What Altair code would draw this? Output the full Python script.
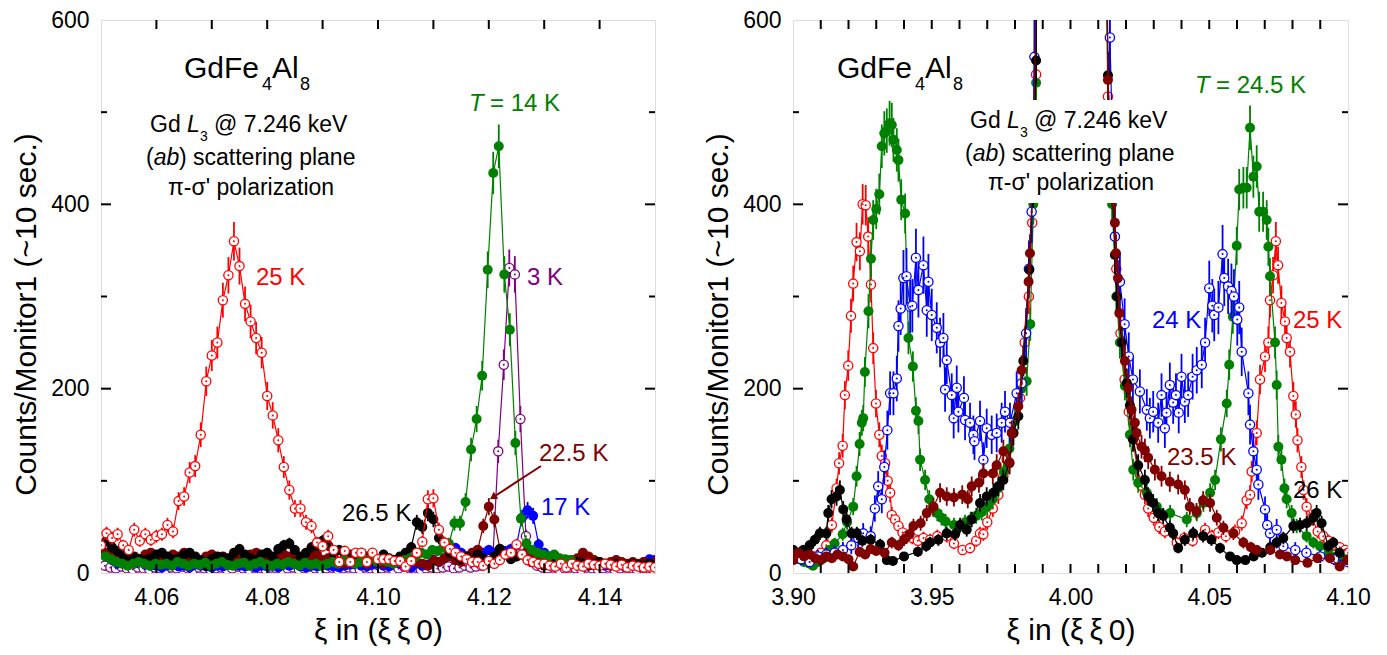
import altair as alt
import pandas as pd

FONT = "Liberation Sans"
RED, GREEN, BLUE, PURPLE, MAROON, BLACK = "#FF0000", "#008000", "#0000FF", "#800080", "#800000", "#000000"
XTITLE = "ξ in (ξ\u2009ξ\u20090)"
YTITLE = "Counts/Monitor1 (~10 sec.)"

# ---------------- left panel data (scan start, step 0.001) ----------------
STEP = 0.001
L_RED_X0 = 4.050
L_RED = [30, 43, 38, 42, 30, 25, 47, 35, 42, 36,
         40, 42, 52, 45, 78, 83, 109, 116, 150, 208,
         236, 250, 296, 323, 360, 333, 292, 273, 255, 239,
         192, 171, 144, 115, 90, 70, 70, 55, 51, 33,
         29, 40, 25, 12, 24, 12, 22, 22, 12, 22,
         15, 15, 15, 13, 13, 7, 13, 22, 34, 80,
         81, 47, 33, 26, 22, 18, 15, 12, 12, 8,
         13, 10, 14, 20, 22, 31, 20, 14, 12, 10,
         10, 8, 7, 10, 6, 10, 8, 7, 10, 9,
         8, 10, 9, 7, 9, 6, 8, 7, 6, 7,
         6]
L_BLACK_X0 = 4.050
L_BLACK = [30, 35, 28, 24, 20, 18, 17, 15, 14, 16,
           20, 22, 18, 14, 16, 20, 22, 18, 14, 8,
           15, 18, 17, 16, 22, 26, 20, 16, 14, 20,
           22, 18, 26, 30, 32, 25, 18, 22, 28, 30,
           35, 30, 22, 25, 18, 20, 15, 22, 18, 14,
           15, 20, 16, 14, 18, 22, 28, 55, 50, 65,
           58, 38, 28, 22, 20, 15, 18, 14, 20, 16,
           12, 18, 26, 20, 15, 18, 20, 14, 12, 10,
           8, 10, 12, 10, 8, 10, 12, 10, 8, 10,
           12, 10, 8, 10, 9, 8, 10, 9, 8, 10,
           8]
L_MAROON_X0 = 4.050
L_MAROON = [25, 22, 18, 20, 16, 14, 18, 15, 20, 22,
            18, 14, 16, 20, 18, 22, 16, 14, 12, 18,
            20, 16, 18, 14, 12, 16, 18, 20, 22, 16,
            14, 12, 16, 20, 18, 14, 16, 12, 18, 20,
            14, 16, 18, 12, 10, 14, 16, 12, 10, 14,
            12, 10, 12, 14, 12, 10, 14, 12, 10, 8,
            14, 12, 16, 18, 14, 12, 16, 22, 25, 51,
            72, 58, 26, 20, 22, 18, 20, 24, 16, 14,
            12, 15, 18, 14, 12, 14, 16, 22, 18, 14,
            12, 10, 12, 14, 12, 10, 12, 10, 12, 10,
            12]
L_BLUE_X0 = 4.050
L_BLUE = [22, 18, 14, 10, 12, 14, 10, 12, 9, 8,
          8, 6, 8, 10, 7, 8, 6, 9, 8, 7,
          6, 8, 7, 9, 10, 8, 7, 9, 6, 8,
          7, 8, 6, 9, 8, 10, 7, 6, 8, 7,
          9, 8, 7, 6, 8, 9, 10, 8, 7, 9,
          10, 8, 7, 12, 10, 8, 6, 10, 8, 9,
          14, 12, 16, 20, 27, 22, 18, 20, 25, 22,
          25, 22, 20, 24, 26, 30, 60, 68, 62, 31,
          22, 18, 15, 12, 14, 12, 10, 12, 10, 9,
          10, 8, 9, 12, 10, 8, 10, 9, 12, 15,
          14]
L_GREEN_X0 = 4.0508
L_GREEN = [18, 15, 12, 10, 8, 10, 12, 10, 8, 10,
           9, 10, 8, 12, 10, 8, 10, 9, 11, 8,
           10, 12, 9, 8, 10, 11, 8, 10, 12, 9,
           8, 10, 9, 12, 10, 8, 11, 9, 10, 8,
           10, 12, 10, 14, 12, 10, 12, 14, 16, 12,
           14, 12, 10, 12, 14, 16, 18, 22, 20, 25,
           24, 28, 32, 54, 54, 77, 134, 167, 214, 329,
           434, 463, 324, 264, 141, 59, 32, 25, 22, 20,
           18, 20, 16, 15, 14]
L_PURPLE_X0 = 4.0507
L_PURPLE = [8, 6, 5, 7, 5, 4, 6, 5, 4, 6,
            5, 4, 6, 5, 7, 5, 4, 6, 5, 4,
            5, 6, 4, 5, 7, 5, 4, 6, 5, 4,
            6, 5, 4, 5, 6, 4, 5, 7, 5, 4,
            5, 6, 4, 5, 6, 5, 4, 6, 5, 4,
            5, 6, 4, 5, 7, 5, 6, 4, 5, 6,
            5, 6, 7, 5, 6, 8, 6, 7, 8, 10,
            12, 132, 226, 331, 324, 167, 40, 12, 8, 6,
            5, 6, 4, 5, 6, 5, 4, 6, 5, 4,
            5, 6, 4, 5, 6, 5, 4, 6, 5, 4]

# ---------------- right panel data ----------------
R_RED_X = [3.900, 3.902, 3.904, 3.906, 3.908, 3.910, 3.912, 3.914, 3.9157, 3.9166,
           3.9179, 3.9187, 3.9199, 3.9209, 3.9217, 3.9229, 3.9241, 3.9251, 3.9262, 3.9271,
           3.9281, 3.9289, 3.9299, 3.9311, 3.9320, 3.9332, 3.9341, 3.9350, 3.9356, 3.9368,
           3.9380, 3.9395, 3.941, 3.943, 3.945, 3.947, 3.9494, 3.952, 3.9554, 3.958,
           3.9611, 3.9638, 3.966, 3.9674, 3.9686, 3.970, 3.972, 3.974, 3.9758, 3.9770,
           3.9794, 3.9818, 3.9835, 3.9850, 3.9862, 3.9876, 3.989, 3.993, 3.997, 4.000,
           4.003, 4.007, 4.011, 4.0135, 4.0150, 4.0165, 4.018, 4.0195, 4.0210, 4.0225,
           4.024, 4.0255, 4.0268, 4.028, 4.030, 4.032, 4.034, 4.0383, 4.041, 4.044,
           4.0485, 4.0510, 4.0533, 4.056, 4.0593, 4.0617, 4.0635, 4.0647, 4.0653, 4.0671,
           4.0683, 4.0701, 4.0713, 4.0719, 4.0730, 4.0740, 4.0748, 4.0760, 4.0773, 4.0779,
           4.0791, 4.0803, 4.0812, 4.0818, 4.0832, 4.0840, 4.0851, 4.087, 4.0891, 4.0911,
           4.093, 4.095, 4.097, 4.099, 4.100]
R_RED_Y = [22, 18, 20, 15, 18, 22, 30, 52, 92, 119,
           138, 193, 225, 279, 314, 359, 349, 400, 399, 365,
           313, 244, 184, 150, 127, 119, 100, 87, 63, 58,
           51, 44, 40, 38, 35, 38, 36, 40, 40, 32,
           25, 27, 35, 43, 42, 55, 70, 85, 105, 123,
           152, 190, 250, 300, 380, 541, 1200, 4000, 8000, 9000,
           8000, 4000, 1200, 517, 420, 330, 260, 210, 175, 145,
           115, 95, 85, 70, 60, 50, 45, 33, 38, 35,
           47, 40, 44, 40, 45, 54, 79, 85, 110, 152,
           210, 235, 250, 296, 323, 360, 334, 293, 273, 255,
           240, 192, 172, 144, 115, 90, 72, 60, 45, 40,
           35, 30, 28, 25, 22]

R_GREEN_X = [3.900, 3.902, 3.904, 3.906, 3.9072, 3.909, 3.9111, 3.913, 3.915, 3.9179,
             3.9195, 3.9217, 3.9229, 3.9240, 3.9248, 3.9253, 3.9259, 3.9272, 3.9281, 3.9289,
             3.9300, 3.9311, 3.9320, 3.9329, 3.9338, 3.9348, 3.9356, 3.9362, 3.9374, 3.9380,
             3.9390, 3.9404, 3.9416, 3.9432, 3.9443, 3.9452, 3.9458, 3.9476, 3.9491, 3.9505,
             3.952, 3.9535, 3.955, 3.958, 3.960, 3.962, 3.964, 3.966, 3.968, 3.970,
             3.972, 3.974, 3.976, 3.978, 3.980, 3.9823, 3.9842, 3.9855, 3.9866, 3.9876,
             3.989, 3.993, 3.997, 4.000, 4.003, 4.007, 4.011, 4.0135, 4.015, 4.0165,
             4.0178, 4.0196, 4.0214, 4.0226, 4.0244, 4.0275, 4.0311, 4.0359, 4.0419, 4.0455,
             4.0479, 4.0503, 4.0521, 4.0542, 4.0563, 4.0572, 4.0585, 4.0599, 4.0608, 4.0623,
             4.0635, 4.0647, 4.0659, 4.0671, 4.0680, 4.0694, 4.0707, 4.0713, 4.0719, 4.0737,
             4.0743, 4.0749, 4.0760, 4.0771, 4.0779, 4.0797, 4.0815, 4.0851, 4.0875, 4.0899,
             4.093, 4.0959, 4.098, 4.100]
R_GREEN_Y = [20, 15, 12, 10, 8, 12, 16, 25, 32, 42,
             55, 72, 105, 140, 163, 168, 218, 284, 341, 383,
             395, 411, 463, 477, 480, 488, 486, 470, 459, 448,
             405, 390, 255, 224, 176, 165, 123, 101, 80, 70,
             65, 60, 56, 52, 50, 55, 58, 62, 66, 72,
             80, 92, 110, 135, 165, 200, 208, 270, 400, 532,
             1200, 4000, 8000, 9000, 8000, 4000, 1200, 500, 400, 300,
             250, 203, 150, 112, 98, 87, 72, 65, 58, 65,
             76, 87, 101, 145, 184, 226, 278, 355, 416, 418,
             418, 483, 430, 441, 392, 392, 383, 354, 322, 250,
             204, 137, 123, 92, 80, 65, 51, 40, 33, 29,
             22, 18, 16, 15]

R_BLUE_X = [3.900, 3.903, 3.906, 3.909, 3.912, 3.915, 3.918, 3.921, 3.9235, 3.9253,
            3.928, 3.9295, 3.9307, 3.932, 3.9329, 3.9340, 3.9350, 3.9362, 3.9374, 3.9380,
            3.9388, 3.9398, 3.9409, 3.9422, 3.9430, 3.9443, 3.9452, 3.9470, 3.9482, 3.9488,
            3.9500, 3.9518, 3.9530, 3.9542, 3.9548, 3.9554, 3.9572, 3.9579, 3.9590, 3.9596,
            3.9616, 3.9620, 3.9638, 3.9650, 3.9654, 3.9674, 3.9686, 3.9698, 3.9716, 3.9734,
            3.9752, 3.9764, 3.9782, 3.9806, 3.9824, 3.9840, 3.9850, 3.9860, 3.9870, 3.989,
            3.993, 3.997, 4.000, 4.003, 4.007, 4.011, 4.0142, 4.0160, 4.0178, 4.0195,
            4.0210, 4.0225, 4.0250, 4.0275, 4.0286, 4.0298, 4.0316, 4.0328, 4.0340, 4.0346,
            4.0358, 4.0370, 4.0380, 4.0390, 4.0400, 4.0412, 4.0424, 4.0440, 4.0455, 4.0473,
            4.0485, 4.0500, 4.0511, 4.0518, 4.0533, 4.0548, 4.0554, 4.0568, 4.0580, 4.0589,
            4.0601, 4.0608, 4.0617, 4.0641, 4.0647, 4.0659, 4.0671, 4.0677, 4.0701, 4.0709,
            4.0719, 4.0743, 4.0767, 4.081, 4.085, 4.090, 4.095, 4.100]
R_BLUE_Y = [20, 15, 12, 18, 20, 22, 25, 30, 38, 43,
            40, 70, 94, 80, 115, 155, 195, 195, 211, 268,
            287, 320, 322, 289, 290, 342, 307, 334, 285, 316,
            280, 266, 250, 255, 199, 231, 193, 168, 201, 175,
            190, 166, 163, 150, 143, 165, 123, 157, 150, 152,
            163, 175, 163, 195, 206, 260, 330, 392, 560, 1200,
            4000, 8000, 9000, 8000, 4000, 1200, 581, 365, 316, 270,
            235, 210, 197, 177, 168, 175, 163, 193, 157, 174,
            204, 185, 193, 174, 213, 186, 193, 213, 220, 226,
            250, 309, 290, 280, 288, 346, 320, 311, 306, 300,
            275, 288, 240, 195, 161, 132, 112, 96, 69, 52,
            43, 47, 29, 25, 22, 18, 15, 12]

R_MAROON_X = [3.9001, 3.9005, 3.902, 3.904, 3.906, 3.908, 3.910, 3.912, 3.914, 3.916,
              3.918, 3.920, 3.9217, 3.924, 3.926, 3.928, 3.930, 3.933, 3.9356, 3.938,
              3.940, 3.942, 3.9434, 3.946, 3.9482, 3.9506, 3.953, 3.9554, 3.958, 3.961,
              3.963, 3.9644, 3.967, 3.9686, 3.972, 3.9734, 3.9758, 3.978, 3.9788, 3.9812,
              3.9824, 3.9849, 3.9854, 3.9866, 3.988, 3.990, 3.993, 3.997, 4.000, 4.003,
              4.007, 4.011, 4.0135, 4.0150, 4.0160, 4.0164, 4.0171, 4.0176, 4.0196, 4.0208,
              4.0220, 4.0232, 4.0238, 4.0256, 4.0268, 4.0280, 4.0304, 4.0328, 4.0358, 4.0388,
              4.0412, 4.0430, 4.0454, 4.0478, 4.0503, 4.0527, 4.0551, 4.0587, 4.0623, 4.0650,
              4.0671, 4.072, 4.0755, 4.078, 4.081, 4.0854, 4.089, 4.0935, 4.097, 4.0998]
R_MAROON_Y = [14, 20, 22, 18, 20, 16, 14, 18, 16, 20,
              18, 15, 7, 23, 20, 26, 24, 22, 33, 30,
              36, 42, 51, 54, 65, 72, 87, 83, 82, 85,
              80, 94, 98, 108, 108, 117, 132, 120, 152, 181,
              220, 316, 347, 450, 700, 1500, 4000, 8000, 9000, 8000,
              4000, 1500, 535, 420, 380, 347, 320, 282, 230, 201,
              177, 163, 152, 137, 133, 125, 112, 105, 99, 96,
              90, 72, 67, 79, 76, 60, 49, 43, 33, 28,
              25, 25, 20, 18, 14, 11, 16, 16, 7, 14]

R_BLACK_X = [3.9001, 3.902, 3.9037, 3.906, 3.9079, 3.9097, 3.912, 3.9127, 3.9139, 3.9157,
             3.9169, 3.9181, 3.9193, 3.9211, 3.923, 3.925, 3.928, 3.9314, 3.9338, 3.936,
             3.940, 3.945, 3.948, 3.9494, 3.9524, 3.9554, 3.9584, 3.9602, 3.9626, 3.9644,
             3.9674, 3.9698, 3.9722, 3.9740, 3.9758, 3.978, 3.9794, 3.9812, 3.9830, 3.9852,
             3.9865, 3.9876, 3.989, 3.993, 3.997, 4.000, 4.003, 4.007, 4.011, 4.0135,
             4.0150, 4.0160, 4.0168, 4.0185, 4.0203, 4.0214, 4.0226, 4.0244, 4.0268, 4.0280,
             4.0298, 4.0316, 4.0334, 4.0358, 4.037, 4.0388, 4.0412, 4.0442, 4.0478, 4.0508,
             4.0539, 4.0575, 4.0599, 4.063, 4.066, 4.069, 4.072, 4.0743, 4.0767, 4.0803,
             4.0827, 4.0851, 4.0875, 4.0887, 4.0905, 4.0929, 4.0947, 4.097, 4.0998]
R_BLACK_Y = [25, 22, 25, 30, 36, 43, 43, 65, 80, 83,
             90, 69, 58, 43, 43, 35, 36, 31, 14, 13,
             18, 23, 29, 33, 36, 43, 42, 52, 47, 58,
             76, 83, 87, 94, 101, 119, 152, 170, 230, 329,
             420, 556, 1200, 4000, 8000, 9000, 8000, 4000, 1200, 540,
             420, 345, 300, 250, 206, 182, 145, 117, 101, 83,
             76, 65, 62, 49, 43, 27, 36, 43, 40, 36,
             27, 18, 14, 14, 18, 22, 28, 33, 38, 51,
             52, 54, 60, 65, 54, 29, 33, 22, 14]

# ---------------- axes ticks / labels ----------------
L_XLABELS = [4.06, 4.08, 4.10, 4.12, 4.14]
L_XTICKS = [4.06, 4.07, 4.08, 4.09, 4.10, 4.11, 4.12, 4.13, 4.14]
R_XLABELS = [3.90, 3.95, 4.00, 4.05, 4.10]
R_XTICKS = [3.91, 3.92, 3.93, 3.94, 3.95, 3.96, 3.97, 3.98, 3.99, 4.00,
            4.01, 4.02, 4.03, 4.04, 4.05, 4.06, 4.07, 4.08, 4.09]
Y_LABELS = [0, 200, 400, 600]
Y_MAJOR = [200, 400]
Y_MINOR = [100, 300, 500]

H = 553
FILLED_SIZE = 100
OPEN_SIZE = 85


def grid_df(x0, vals):
    return pd.DataFrame({"xi": [round(x0 + STEP * i, 4) for i in range(len(vals))], "v": vals})


def xy_df(xs, ys):
    n = min(len(xs), len(ys))
    return pd.DataFrame({"xi": xs[:n], "v": ys[:n]})


def one():
    return alt.Data(values=[{"a": 1}])


def text_layer(t, x, y, size, color="black", style="normal", align="left"):
    return alt.Chart(one()).mark_text(
        text=t, font=FONT, fontSize=size, color=color, fontStyle=style,
        align=align, baseline="alphabetic"
    ).encode(x=alt.value(x), y=alt.value(y))


def panel(series, xdom, width, xlabels, xticks, texts, box=None, arrow=None):
    xs = alt.Scale(domain=xdom, nice=False, zero=False)
    ys = alt.Scale(domain=[0, 600], nice=False)
    xaxis = alt.Axis(values=xlabels, format=".2f", labelFlush=False, domain=False, ticks=False,
                     grid=False, labelFont=FONT, labelFontSize=23, labelColor="black",
                     labelPadding=13, titleFont=FONT, titleFontSize=30, titleFontWeight="normal",
                     titleColor="black", titlePadding=6)
    yaxis = alt.Axis(values=Y_LABELS, domain=False, ticks=False, grid=False, labelFont=FONT,
                     labelFontSize=23, labelColor="black", labelPadding=12, titleFont=FONT,
                     titleFontSize=30, titleFontWeight="normal", titleColor="black",
                     titlePadding=9, titleY=294)

    def X(f):
        return alt.X(f"{f}:Q", scale=xs, axis=xaxis, title=XTITLE)

    def Y(f):
        return alt.Y(f"{f}:Q", scale=ys, axis=yaxis, title=YTITLE)

    layers = []
    for df, color, style, k in series:
        base = alt.Chart(df).transform_calculate(
            lo=f"max(datum.v - {k}*sqrt(datum.v), 0)",
            hi=f"datum.v + {k}*sqrt(datum.v)",
        )
        layers.append(base.mark_line(color=color, strokeWidth=1.2, clip=True)
                      .encode(x=X("xi"), y=Y("v")))
        layers.append(base.mark_rule(color=color, strokeWidth=1.8, clip=True)
                      .encode(x=X("xi"), y=Y("lo"), y2="hi:Q"))
        if style == "filled":
            layers.append(base.mark_circle(color=color, size=FILLED_SIZE, opacity=1, clip=True)
                          .encode(x=X("xi"), y=Y("v")))
        else:
            layers.append(base.mark_point(shape="circle", filled=True, fill="white", stroke=color,
                                          strokeWidth=1.3, size=OPEN_SIZE, opacity=1, clip=True)
                          .encode(x=X("xi"), y=Y("v")))
            layers.append(base.mark_circle(color=color, size=4, opacity=1, clip=True)
                          .encode(x=X("xi"), y=Y("v")))

    tx = alt.Chart(pd.DataFrame({"xi": xticks}))
    layers.append(tx.mark_rule(color="black", strokeWidth=2)
                  .encode(x=X("xi"), y=alt.value(H), y2=alt.value(H - 9)))
    layers.append(tx.mark_rule(color="black", strokeWidth=2)
                  .encode(x=X("xi"), y=alt.value(0), y2=alt.value(9)))
    for vals, ln in ((Y_MAJOR, 10), (Y_MINOR, 6)):
        ty = alt.Chart(pd.DataFrame({"v": vals}))
        layers.append(ty.mark_rule(color="black", strokeWidth=2)
                      .encode(y=Y("v"), x=alt.value(0), x2=alt.value(ln)))
        layers.append(ty.mark_rule(color="black", strokeWidth=2)
                      .encode(y=Y("v"), x=alt.value(width), x2=alt.value(width - ln)))

    if box is not None:
        x1, y1, x2, y2 = box
        layers.append(alt.Chart(one()).mark_rect(color="white")
                      .encode(x=alt.value(x1), x2=alt.value(x2), y=alt.value(y1), y2=alt.value(y2)))
    if arrow is not None:
        (ax1, ay1), (ax2, ay2), ang = arrow
        layers.append(alt.Chart(one()).mark_rule(color=MAROON, strokeWidth=2)
                      .encode(x=alt.value(ax1), y=alt.value(ay1), x2=alt.value(ax2), y2=alt.value(ay2)))
        layers.append(alt.Chart(one()).mark_point(shape="triangle", filled=True, color=MAROON,
                                                  size=70, angle=ang, opacity=1)
                      .encode(x=alt.value(ax2 + 2), y=alt.value(ay2 - 1.5)))
    for t in texts:
        layers.append(text_layer(*t))
    return alt.layer(*layers).properties(width=width, height=H)


left_series = [
    (grid_df(L_PURPLE_X0, L_PURPLE), PURPLE, "open", 1.1),
    (grid_df(L_BLUE_X0, L_BLUE), BLUE, "filled", 1.1),
    (grid_df(L_MAROON_X0, L_MAROON), MAROON, "filled", 1.1),
    (grid_df(L_BLACK_X0, L_BLACK), BLACK, "filled", 1.1),
    (grid_df(L_GREEN_X0, L_GREEN), GREEN, "filled", 1.1),
    (grid_df(L_RED_X0, L_RED), RED, "open", 1.1),
]
left_texts = [
    ("GdFe", 83, 58, 30), ("4", 161, 70, 18), ("Al", 171, 58, 30), ("8", 199, 70, 18),
    ("Gd", 49, 112, 23), ("L", 86, 112, 23, "black", "italic"), ("3", 99, 121, 14),
    ("@ 7.246 keV", 113, 112, 23),
    ("(", 45, 145, 23), ("ab", 52.7, 145, 23, "black", "italic"), (") scattering plane", 78, 145, 23),
    ("π-σ' polarization", 150, 175, 23, "black", "normal", "center"),
    ("T", 368, 91, 24, GREEN, "italic"), ("= 14 K", 389, 91, 24, GREEN),
    ("3 K", 426, 265, 24, PURPLE),
    ("25 K", 155, 265, 24, RED),
    ("26.5 K", 241, 501, 24, BLACK),
    ("22.5 K", 438, 441, 24, MAROON),
    ("17 K", 440, 495, 24, BLUE),
]
left = panel(left_series, [4.05, 4.15], 554, L_XLABELS, L_XTICKS, left_texts,
             arrow=((440, 446), (391, 478), 236.6))

right_series = [
    (xy_df(R_RED_X, R_RED_Y), RED, "open", 1.1),
    (xy_df(R_GREEN_X, R_GREEN_Y), GREEN, "filled", 1.1),
    (xy_df(R_BLUE_X, R_BLUE_Y), BLUE, "open", 1.7),
    (xy_df(R_BLACK_X, R_BLACK_Y), BLACK, "filled", 1.1),
    (xy_df(R_MAROON_X, R_MAROON_Y), MAROON, "filled", 1.1),
]
right_texts = [
    ("GdFe", 44, 58, 30), ("4", 122, 70, 18), ("Al", 132, 58, 30), ("8", 160, 70, 18),
    ("Gd", 177, 108, 23), ("L", 214, 108, 23, "black", "italic"), ("3", 227, 117, 14),
    ("@ 7.246 keV", 241, 108, 23),
    ("(", 172, 141, 23), ("ab", 179.7, 141, 23, "black", "italic"), (") scattering plane", 205, 141, 23),
    ("π-σ' polarization", 278, 170, 23, "black", "normal", "center"),
    ("T", 402, 73, 24, GREEN, "italic"), ("= 24.5 K", 423, 73, 24, GREEN),
    ("24 K", 359, 308, 24, BLUE),
    ("25 K", 500, 308, 24, RED),
    ("23.5 K", 374, 445, 24, MAROON),
    ("26 K", 500, 478, 24, BLACK),
]
right = panel(right_series, [3.90, 4.10], 555, R_XLABELS, R_XTICKS, right_texts,
              box=(170, 80, 387, 183))

chart = alt.hconcat(left, right, spacing=46).properties(
    padding={"left": 3, "top": 0, "right": 0, "bottom": 0}
).configure_view(stroke="black", strokeWidth=2.5).configure(background="white")

chart.save("out.html", embed_options={"renderer": "svg", "actions": False})
